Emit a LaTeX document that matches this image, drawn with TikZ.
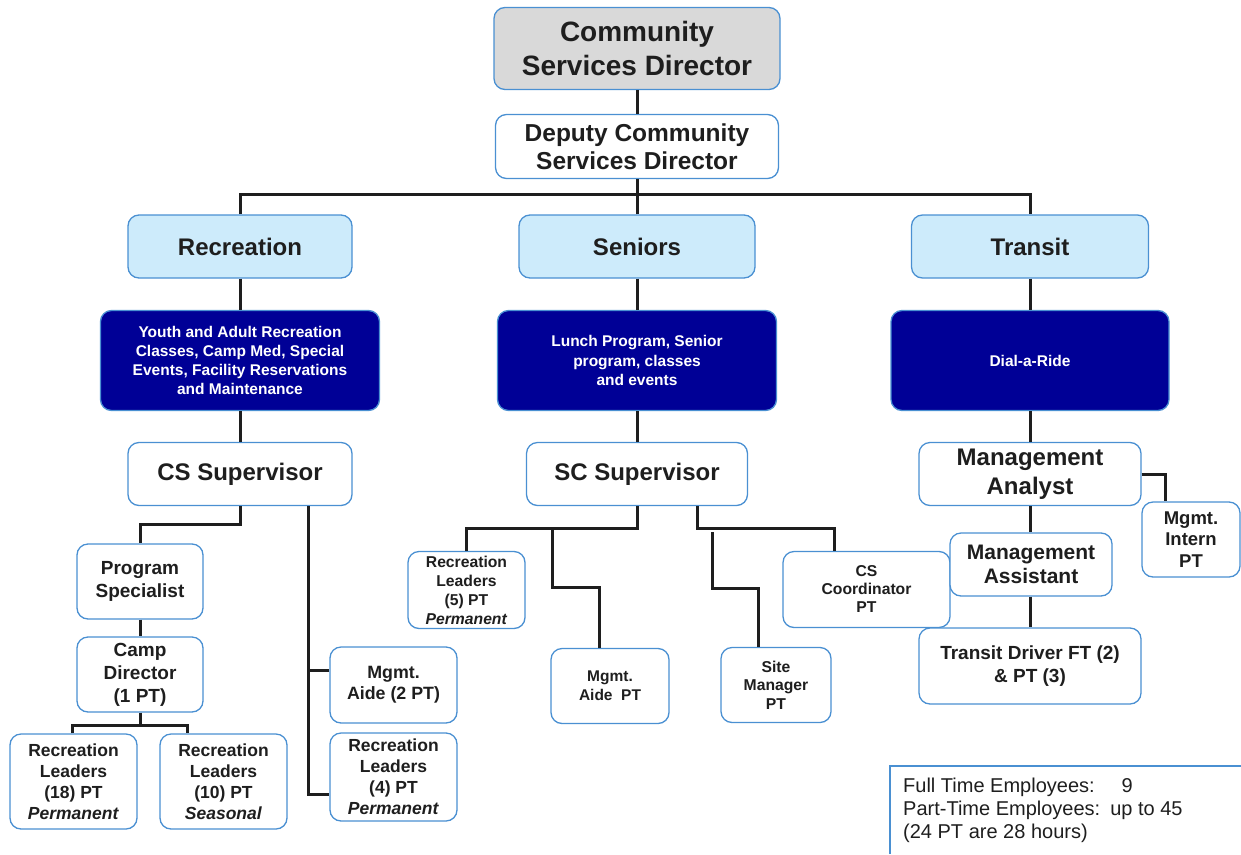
\documentclass[tikz,border=0pt]{standalone}
\usepackage{fontspec}
\setmainfont{Liberation Sans}
\definecolor{edgeblue}{HTML}{4A90D2}
\definecolor{paleblue}{HTML}{CDEBFB}
\definecolor{deepblue}{HTML}{000096}
\definecolor{headgray}{HTML}{D9D9D9}
\definecolor{ink}{HTML}{1E1E1E}
\begin{document}
\begin{tikzpicture}[x=1pt,y=-1pt,
  box/.style={draw=edgeblue, line width=1.3pt, rounded corners=11pt, fill=white,
    align=center, inner sep=0pt, text=ink},
  head/.style={box, fill=paleblue},
  dark/.style={box, fill=deepblue, text=white},
  wh/.style 2 args={minimum width=#1, minimum height=#2},
  fs/.style 2 args={font=\fontsize{#1}{#2}\selectfont\bfseries},
  link/.style={draw=ink, line width=3pt}]
\useasboundingbox (0,0) rectangle (1241,854);

% ---- top of the chart
\node[box, fill=headgray, wh={286}{82}, fs={28}{34}] (csd) at (637,48.5) {Community\\Services Director};
\node[box, wh={283}{64}, fs={24.5}{28}] (dep) at (637,146.5) {Deputy Community\\Services Director};

% ---- divisions
\node[head, wh={224}{63}, fs={24}{29}] (rec) at (240,246.5) {Recreation};
\node[head, wh={236}{63}, fs={24}{29}] (sen) at (637,246.5) {Seniors};
\node[head, wh={237}{63}, fs={24}{29}] (tra) at (1030,246.5) {Transit};

\node[dark, wh={279}{100}, fs={15.5}{19.3}] (youth) at (240,360.5)
  {Youth and Adult Recreation\\Classes, Camp Med, Special\\Events, Facility Reservations\\and Maintenance};
\node[dark, wh={279}{100}, fs={15.5}{19.3}] (lunch) at (637,360.5)
  {Lunch Program, Senior\\program, classes\\and events};
\node[dark, wh={278}{100}, fs={15.5}{19.3}] (dial) at (1030,360.5) {Dial-a-Ride};

\node[box, wh={224}{63}, fs={24}{29}] (cssup) at (240,474) {CS Supervisor};
\node[box, wh={221}{63}, fs={24}{29}] (scsup) at (637,474) {SC Supervisor};
\node[box, wh={222}{63}, fs={24}{29}] (ma) at (1030,474) {Management\\Analyst};

% ---- recreation staff
\node[box, wh={126}{75}, fs={19}{23}] (ps) at (140,581.5) {Program\\Specialist};
\node[box, wh={126}{75}, fs={19}{23}] (cd) at (140,674.5) {Camp\\Director\\(1 PT)};
\node[box, wh={127}{95}, fs={17.5}{21}] (rl18) at (73.5,781.5) {Recreation\\Leaders\\(18) PT\\\textit{Permanent}};
\node[box, wh={127}{95}, fs={17.5}{21}] (rl10) at (223.5,781.5) {Recreation\\Leaders\\(10) PT\\\textit{Seasonal}};
\node[box, wh={127}{76}, fs={17.8}{21}] (aide2) at (393.5,685) {Mgmt.\\Aide (2 PT)};
\node[box, wh={127}{88}, fs={17.5}{21}] (rl4) at (393.5,777) {Recreation\\Leaders\\(4) PT\\\textit{Permanent}};

% ---- seniors staff
\node[box, wh={117}{77}, fs={15.7}{19}] (rl5) at (466.5,590) {Recreation\\Leaders\\(5) PT\\\textit{Permanent}};
\node[box, wh={118}{75}, fs={15.5}{19}] (aidept) at (610,686) {Mgmt.\\Aide~~PT};
\node[box, wh={110}{75}, fs={15.7}{18.5}] (site) at (776,685) {Site\\Manager\\PT};
\node[box, wh={167}{76}, fs={15.7}{18}] (csc) at (866.5,589.5) {CS\\Coordinator\\PT};

% ---- transit staff
\node[box, wh={98}{75}, fs={18.5}{21.5}] (intern) at (1191,539.5) {Mgmt.\\Intern\\PT};
\node[box, wh={162}{63}, fs={21}{24}] (massist) at (1031,564.5) {Management\\Assistant};
\node[box, wh={222}{76}, fs={19}{23}] (driver) at (1030,666) {Transit Driver FT (2)\\\&~PT (3)};

% ---- connectors
\draw[link] (csd.south) -- (dep.north);
\draw[link] (dep.south) -- ++(0,15) coordinate (bus);
\draw[link] (rec.north) |- (bus) -| (tra.north);
\draw[link] (sen.north) -- (bus);
\draw[link] (rec.south) -- (youth.north);
\draw[link] (sen.south) -- (lunch.north);
\draw[link] (tra.south) -- (dial.north);
\draw[link] (youth.south) -- (cssup.north);
\draw[link] (lunch.south) -- (scsup.north);
\draw[link] (dial.south) -- (ma.north);

% recreation branch
\draw[link] (cssup.south) -- ++(0,18) -| (ps.north);
\draw[link] (ps.south) -- (cd.north);
\draw[link] (cd.south) -- ++(0,13) coordinate (cdj);
\draw[link] ([shift={(-1.5,0)}]rl18.north) |- (cdj) -| ([shift={(-36.5,0)}]rl10.north);
\draw[link] ([shift={(68,0)}]cssup.south) |- ([shift={(0,17)}]rl4.west);
\draw[link] ([shift={(0,-15)}]aide2.west) -- ++(-22,0);

% seniors branch
\draw[link] (scsup.south) -- ++(0,22) coordinate (sj) -| (rl5.north);
\draw[link] ([shift={(-85,0)}]sj) |- ([shift={(-11,-60)}]aidept.north) -- ([shift={(-11,0)}]aidept.north);
\draw[link] ([shift={(60,0)}]scsup.south) -- ++(0,22) -| ([shift={(-32.5,0)}]csc.north);
\draw[link] ([shift={(75,4)}]sj) |- ([shift={(-18,-58)}]site.north) -- ([shift={(-18,0)}]site.north);

% transit branch
\draw[link] (ma.south) -- (ma.south |- massist.north);
\draw[link] (ma.south |- massist.south) -- (ma.south |- driver.north);
\draw[link] (ma.east) -| ([shift={(-26,0)}]intern.north);

% ---- staffing summary
\draw[draw=edgeblue, line width=1.3pt] (890,854) -- (890,766) -- (1241,766);
\node[anchor=north west, align=left, inner sep=0pt, text=ink,
  font=\fontsize{20}{23}\selectfont] (summary) at (903,778)
  {Full Time Employees:\hspace{27pt}9\\Part-Time Employees:\hspace{10pt}up to 45\\(24 PT are 28 hours)};
\end{tikzpicture}
\end{document}
